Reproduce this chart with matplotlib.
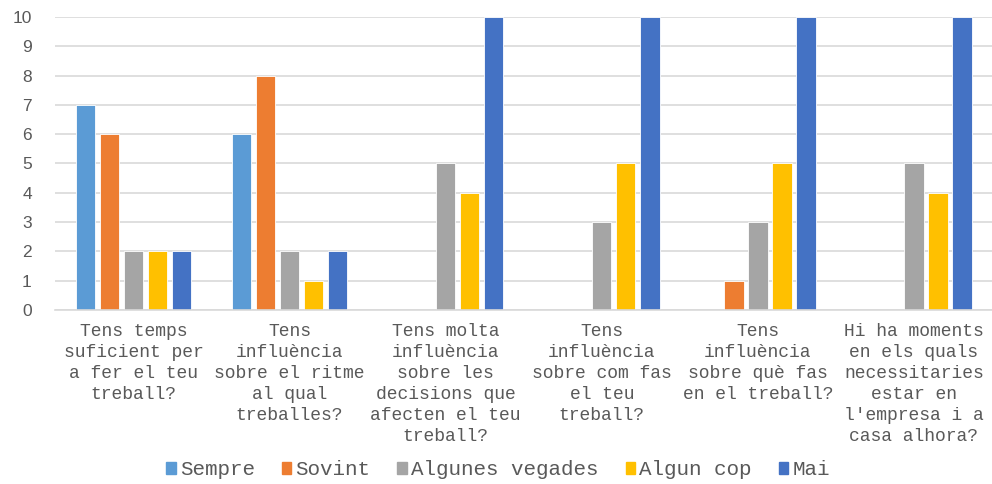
import matplotlib.pyplot as plt
import numpy as np

# ---------- Data ----------
categories = [
    "Tens temps\nsuficient per\na fer el teu\ntreball?",
    "Tens\ninfluència\nsobre el ritme\nal qual\ntreballes?",
    "Tens molta\ninfluència\nsobre les\ndecisions que\nafecten el teu\ntreball?",
    "Tens\ninfluència\nsobre com fas\nel teu\ntreball?",
    "Tens\ninfluència\nsobre què fas\nen el treball?",
    "Hi ha moments\nen els quals\nnecessitaries\nestar en\nl'empresa i a\ncasa alhora?",
]
series_names = ["Sempre", "Sovint", "Algunes vegades", "Algun cop", "Mai"]
sempre = [7, 6, 0, 0, 0, 0]
sovint = [6, 8, 0, 0, 1, 0]
algunes_vegades = [2, 2, 5, 3, 3, 5]
algun_cop = [2, 1, 4, 5, 5, 4]
mai = [2, 2, 10, 10, 10, 10]
y_ticks = list(range(0, 11))

colors = ["#5B9BD5", "#ED7D31", "#A5A5A5", "#FFC000", "#4472C4"]
text_color = "#595959"
grid_color = "#D9D9D9"

# ---------- Plot ----------
fig = plt.figure(figsize=(9.92, 4.84), dpi=100)
ax = fig.add_axes([0.0559, 0.3595, 0.9441, 0.6054])

x = np.arange(len(categories))
step = 0.154
width = 0.124
all_series = [sempre, sovint, algunes_vegades, algun_cop, mai]
for j, (name, vals) in enumerate(zip(series_names, all_series)):
    ax.bar(x + (j - 2) * step, vals, width, color=colors[j], label=name,
           edgecolor="white", linewidth=0.6, zorder=3)

ax.set_xlim(-0.5, len(categories) - 0.5)
ax.set_ylim(0, 10)
ax.set_yticks(y_ticks)
ax.set_yticklabels([str(v) for v in y_ticks], family="Liberation Sans",
                   fontsize=12.5, color=text_color)
ax.tick_params(axis="y", length=0, pad=17)
ax.grid(axis="y", color=grid_color, linewidth=1.2, zorder=0)

ax.set_xticks(x)
ax.set_xticklabels(categories, family="Liberation Mono", fontsize=13,
                   color=text_color, linespacing=1.32, va="top")
ax.tick_params(axis="x", length=0, pad=9)

for side in ["top", "right", "left"]:
    ax.spines[side].set_visible(False)
ax.spines["bottom"].set_color(grid_color)
ax.spines["bottom"].set_linewidth(1.2)
ax.spines["bottom"].set_zorder(4)

handles = [plt.Rectangle((0, 0), 1, 1, color=c) for c in colors]
fig.legend(handles, series_names, loc="center", bbox_to_anchor=(0.502, 0.029),
           ncol=5, frameon=False, handlelength=0.45, handleheight=0.45,
           handletextpad=0.2, columnspacing=1.3,
           prop={"family": "Liberation Mono", "size": 15}, labelcolor=text_color)

fig.savefig("out.png", dpi=100)
